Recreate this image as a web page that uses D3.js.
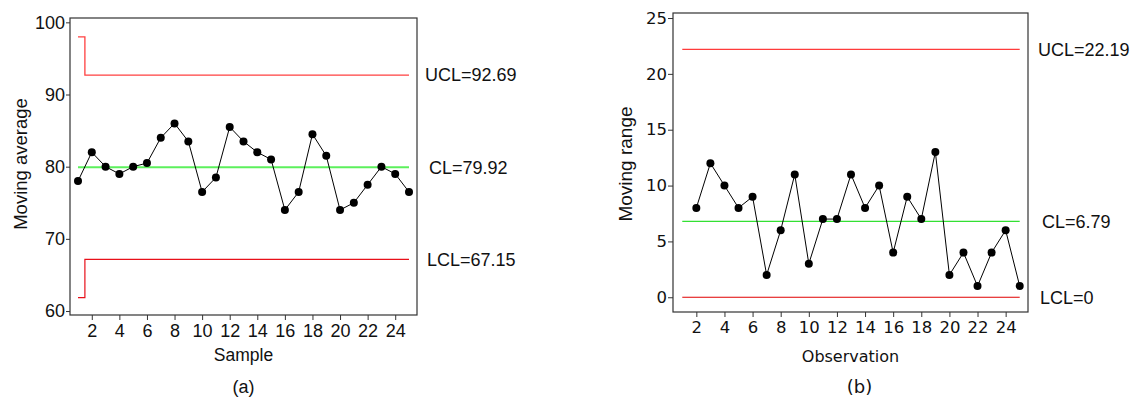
<!DOCTYPE html>
<html>
<head>
<meta charset="utf-8">
<script src="https://cdn.jsdelivr.net/npm/d3@7"></script>
<style>
  body { margin: 0; background: #fff; }
  svg { display: block; }
  .axis path, .axis line { stroke: #333; }
</style>
</head>
<body>
<svg width="1137" height="398"></svg>
<script>
// (a) moving average chart
const samples = d3.range(1, 26);
const movingAvg = [78, 82, 80, 79, 80, 80.5, 84, 86, 83.5, 76.5, 78.5, 85.5, 83.5,
  82, 81, 74, 76.5, 84.5, 81.5, 74, 75, 77.5, 80, 79, 76.5];
const avgUclFirst = 97.98, avgLclFirst = 61.86;
const avgLimits = { ucl: 92.69, cl: 79.92, lcl: 67.15 };
const avgYTicks = [60, 70, 80, 90, 100];

// (b) moving range chart
const observations = d3.range(2, 26);
const movingRange = [8, 12, 10, 8, 9, 2, 6, 11, 3, 7, 7, 11, 8, 10, 4, 9, 7, 13, 2, 4, 1, 4, 6, 1];
const rangeLimits = { ucl: 22.19, cl: 6.79, lcl: 0 };
const rangeYTicks = [0, 5, 10, 15, 20, 25];

const xTicks = d3.range(2, 25, 2);

const svg = d3.select('svg');
const arial = 'Liberation Sans, Arial, sans-serif';
const tahoma = 'DejaVu Sans, Verdana, sans-serif';

function panel(opt) {
  const g = svg.append('g').attr('transform', `translate(${opt.left},${opt.top})`);
  const w = opt.width, h = opt.height;
  const x = d3.scaleLinear().domain(opt.xDomain).range([0, w]);
  const y = d3.scaleLinear().domain(opt.yDomain).range([h, 0]);

  const xa = g.append('g').attr('class', 'axis')
    .attr('transform', `translate(0,${h})`)
    .call(d3.axisBottom(x).tickValues(xTicks).tickSizeOuter(0).tickSize(5).tickPadding(4));
  const ya = g.append('g').attr('class', 'axis')
    .call(d3.axisLeft(y).tickValues(opt.yTicks).tickSizeOuter(0).tickSize(opt.yTick).tickPadding(opt.yPad));
  [xa, ya].forEach(a => a.selectAll('text')
    .attr('fill', '#111')
    .style('font-family', opt.tickFont)
    .style('font-size', opt.tickSize + 'px'));
  xa.select('.domain').remove();
  ya.select('.domain').remove();

  g.append('rect').attr('width', w).attr('height', h)
    .attr('fill', 'none').attr('stroke', '#333').attr('stroke-width', 1.2);

  // limit lines
  opt.limits(g, x, y);

  const line = d3.line().x(d => x(d[0])).y(d => y(d[1]));
  const pts = opt.xs.map((d, i) => [d, opt.ys[i]]);
  g.append('path').datum(pts).attr('d', line)
    .attr('fill', 'none').attr('stroke', '#000').attr('stroke-width', 1);
  g.selectAll('circle.pt').data(pts).enter().append('circle')
    .attr('class', 'pt')
    .attr('cx', d => x(d[0])).attr('cy', d => y(d[1])).attr('r', 4)
    .attr('fill', '#000');

  // limit labels
  opt.labels.forEach(l => {
    g.append('text').attr('x', w + l.dx).attr('y', y(l.v)).attr('dy', '0.35em')
      .style('font-family', arial)
      .style('font-size', '18px').attr('fill', '#111').text(l.t);
  });

  g.append('text')
    .attr('transform', `translate(${opt.yTitleX},${opt.yTitleY}) rotate(-90)`)
    .attr('text-anchor', 'middle').attr('dy', '0.35em')
    .style('font-family', arial).style('font-size', opt.yTitleSize + 'px').attr('fill', '#111')
    .text(opt.yTitle);
  g.append('text')
    .attr('x', w / 2).attr('y', opt.xTitleY).attr('text-anchor', 'middle')
    .style('font-family', opt.titleFont).style('font-size', opt.xTitleSize + 'px').attr('fill', '#111')
    .text(opt.xTitle);
  g.append('text')
    .attr('x', w / 2 + opt.capDx).attr('y', opt.capY).attr('text-anchor', 'middle')
    .style('font-family', opt.titleFont).style('font-size', opt.capSize + 'px')
    .attr('fill', '#111').text(opt.caption);
}

panel({
  left: 70, top: 18, width: 347, height: 297,
  xDomain: [0.42, 25.58], yDomain: [59.45, 100.6], yTicks: avgYTicks,
  xs: samples, ys: movingAvg,
  tickFont: arial, tickSize: 18, yTick: 4, yPad: 1,
  titleFont: arial,
  yTitle: 'Moving average', xTitle: 'Sample', caption: '(a)',
  yTitleX: -49, yTitleY: 146, yTitleSize: 18.5,
  xTitleY: 343, xTitleSize: 17.5, capY: 375, capDx: 0, capSize: 18,
  limits: (g, x, y) => {
    const step = d3.line().curve(d3.curveStep).x(d => x(d[0])).y(d => y(d[1]));
    g.append('path').datum([[1, avgUclFirst], [2, avgLimits.ucl], [25, avgLimits.ucl]])
      .attr('d', step).attr('fill', 'none').attr('stroke', '#ff4040').attr('stroke-width', 1.3);
    g.append('path').datum([[1, avgLclFirst], [2, avgLimits.lcl], [25, avgLimits.lcl]])
      .attr('d', step).attr('fill', 'none').attr('stroke', '#e8101a').attr('stroke-width', 1.2);
    g.append('line').attr('x1', x(1)).attr('x2', x(25))
      .attr('y1', y(avgLimits.cl)).attr('y2', y(avgLimits.cl))
      .attr('stroke', '#5cf05c').attr('stroke-width', 2);
  },
  labels: [
    { v: avgLimits.ucl, t: 'UCL=92.69', dx: 8 },
    { v: avgLimits.cl, t: 'CL=79.92', dx: 12 },
    { v: avgLimits.lcl, t: 'LCL=67.15', dx: 10 }
  ]
});

panel({
  left: 673, top: 13, width: 355, height: 299,
  xDomain: [0.34, 25.59], yDomain: [-1.32, 25.45], yTicks: rangeYTicks,
  xs: observations, ys: movingRange,
  tickFont: tahoma, tickSize: 16.5, yTick: 5, yPad: 1,
  titleFont: tahoma,
  yTitle: 'Moving range', xTitle: 'Observation', caption: '(b)',
  yTitleX: -48, yTitleY: 151, yTitleSize: 19,
  xTitleY: 349, xTitleSize: 16, capY: 380, capDx: 9, capSize: 18,
  limits: (g, x, y) => {
    const lim = [
      { v: rangeLimits.ucl, c: '#ff3b3b' },
      { v: rangeLimits.cl, c: '#33e033' },
      { v: rangeLimits.lcl, c: '#e00000' }
    ];
    g.selectAll('line.lim').data(lim).enter().append('line').attr('class', 'lim')
      .attr('x1', x(1)).attr('x2', x(25))
      .attr('y1', d => y(d.v)).attr('y2', d => y(d.v))
      .attr('stroke', d => d.c).attr('stroke-width', 1.2);
  },
  labels: [
    { v: rangeLimits.ucl, t: 'UCL=22.19', dx: 10 },
    { v: rangeLimits.cl, t: 'CL=6.79', dx: 14 },
    { v: rangeLimits.lcl, t: 'LCL=0', dx: 12 }
  ]
});
</script>
</body>
</html>
